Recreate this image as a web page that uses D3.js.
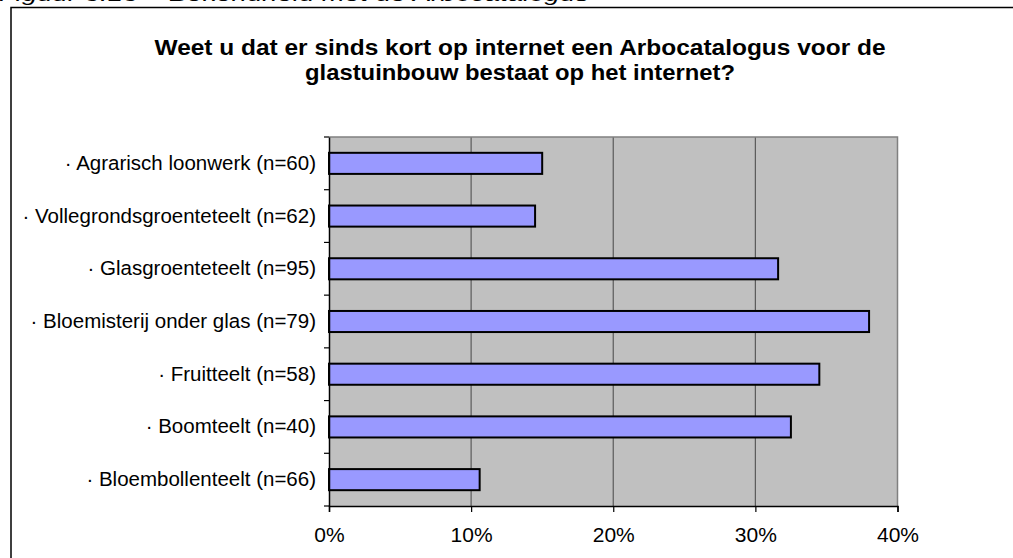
<!DOCTYPE html>
<html>
<head>
<meta charset="utf-8">
<script src="https://cdn.jsdelivr.net/npm/d3@7"></script>
<style>
  html, body { margin: 0; padding: 0; background: #fff; }
  svg { display: block; font-family: "Liberation Sans", Arial, sans-serif; }
</style>
</head>
<body>
<svg id="chart" width="1013" height="558"></svg>
<script>
// Sector labels, top to bottom
const categories = [
  "· Agrarisch loonwerk (n=60)",
  "· Vollegrondsgroenteteelt (n=62)",
  "· Glasgroenteteelt (n=95)",
  "· Bloemisterij onder glas (n=79)",
  "· Fruitteelt (n=58)",
  "· Boomteelt (n=40)",
  "· Bloembollenteelt (n=66)"
];
// Share of respondents aware of the Arbocatalogus (%)
const values = [15.0, 14.5, 31.6, 38.0, 34.5, 32.5, 10.6];
const xTicks = [0, 10, 20, 30, 40];
const titleLines = [
  "Weet u dat er sinds kort op internet een Arbocatalogus voor de",
  "glastuinbouw bestaat op het internet?"
];
const caption = "Figuur 3.13 – Bekendheid met de Arbocatalogus";

const svg = d3.select("#chart");
const plot = { left: 329, right: 897.5, top: 137, bottom: 506 };

// Caption above the frame (mostly clipped by the page edge)
svg.append("text")
  .attr("x", -1).attr("y", 0.5)
  .attr("font-size", 21).attr("font-style", "italic")
  .attr("textLength", 590).attr("lengthAdjust", "spacingAndGlyphs")
  .attr("fill", "#000")
  .text(caption);

// Chart frame
svg.append("rect")
  .attr("x", 11).attr("y", 7.5)
  .attr("width", 1013).attr("height", 600)
  .attr("fill", "none").attr("stroke", "#000").attr("stroke-width", 1.5);

// Title, two centred lines
const titleWidths = [731, 430];
svg.append("g").selectAll("text")
  .data(titleLines).join("text")
  .attr("x", (d, i) => 520 - titleWidths[i] / 2)
  .attr("y", (d, i) => 55 + i * 25)
  .attr("font-size", 22).attr("font-weight", "bold")
  .attr("textLength", (d, i) => titleWidths[i]).attr("lengthAdjust", "spacingAndGlyphs")
  .attr("fill", "#000")
  .text(d => d);

const x = d3.scaleLinear().domain([0, 40]).range([plot.left, plot.right]);
const y = d3.scaleBand().domain(categories).range([plot.top, plot.bottom]).paddingInner(0.6).paddingOuter(0.3);
const yOuter = d3.scaleBand().domain(categories).range([plot.top, plot.bottom]);

// Plot area
svg.append("rect")
  .attr("x", plot.left).attr("y", plot.top)
  .attr("width", plot.right - plot.left).attr("height", plot.bottom - plot.top)
  .attr("fill", "#c0c0c0");

// Vertical gridlines
svg.append("g").selectAll("line")
  .data(xTicks.slice(1, -1)).join("line")
  .attr("x1", d => x(d)).attr("x2", d => x(d))
  .attr("y1", plot.top).attr("y2", plot.bottom)
  .attr("stroke", "#5a5a5a").attr("stroke-width", 1.2);

// Plot border top/right
svg.append("path")
  .attr("d", `M${plot.left},${plot.top}H${plot.right}V${plot.bottom}`)
  .attr("fill", "none").attr("stroke", "#808080").attr("stroke-width", 1.5);

// Bars
svg.append("g").selectAll("rect")
  .data(values).join("rect")
  .attr("x", x(0))
  .attr("y", (d, i) => y(categories[i]))
  .attr("width", d => x(d) - x(0))
  .attr("height", y.bandwidth())
  .attr("fill", "#9999ff")
  .attr("stroke", "#000").attr("stroke-width", 2);

// Category axis
const yAxis = d3.axisLeft(yOuter).tickSize(0).tickPadding(13);
const yg = svg.append("g").attr("transform", `translate(${plot.left},0)`).call(yAxis);
yg.select(".domain").attr("stroke", "#000").attr("stroke-width", 1.5);
yg.selectAll("text").attr("font-size", 20.5).attr("fill", "#000")
  .attr("font-family", "'Liberation Sans', Arial, sans-serif");
// Category separators
yg.append("g").selectAll("line")
  .data(d3.range(categories.length + 1)).join("line")
  .attr("x1", -5).attr("x2", 0)
  .attr("y1", i => plot.top + i * yOuter.step())
  .attr("y2", i => plot.top + i * yOuter.step())
  .attr("stroke", "#000").attr("stroke-width", 1.2);

// Value axis
const xAxis = d3.axisBottom(x).tickValues(xTicks).tickFormat(d => d + "%").tickSize(6).tickPadding(15);
const xg = svg.append("g").attr("transform", `translate(0,${plot.bottom})`).call(xAxis);
xg.select(".domain").attr("stroke", "#000").attr("stroke-width", 1.5);
xg.selectAll(".tick line").attr("stroke", "#000").attr("stroke-width", 1.2);
xg.selectAll("text").attr("font-size", 21).attr("fill", "#000")
  .attr("font-family", "'Liberation Sans', Arial, sans-serif");
</script>
</body>
</html>
